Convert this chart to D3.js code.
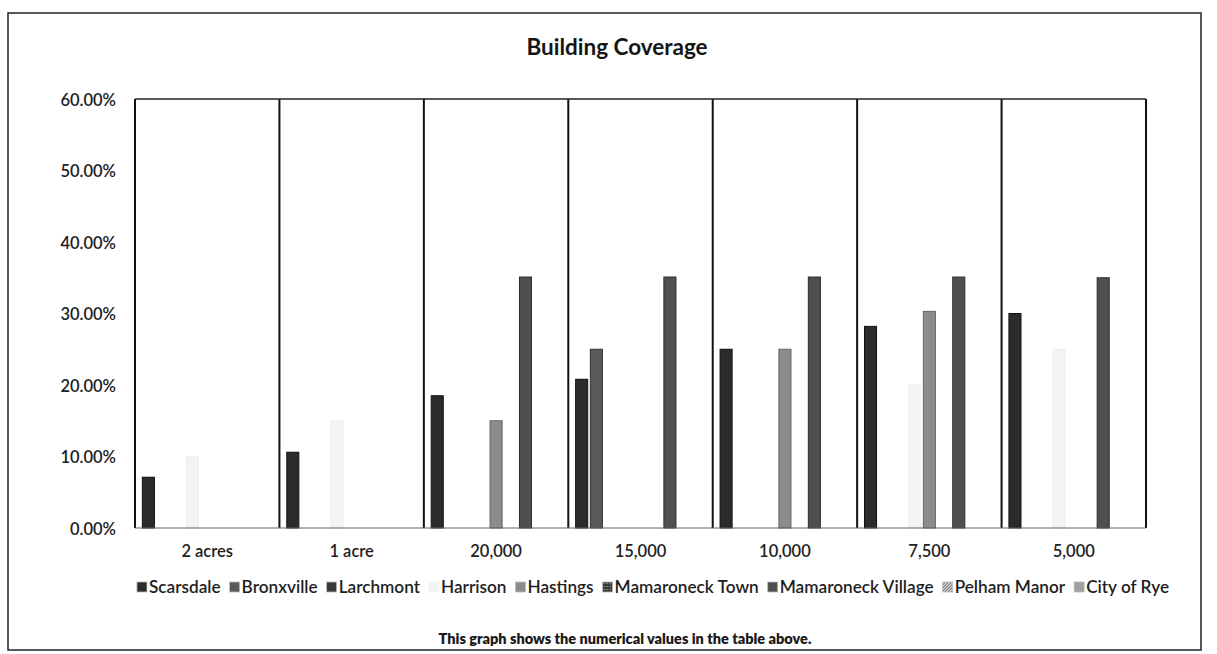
<!DOCTYPE html>
<html>
<head>
<meta charset="utf-8">
<script src="https://cdn.jsdelivr.net/npm/d3@7/dist/d3.min.js"></script>
<style>
  html, body { margin: 0; padding: 0; background: #fff; }
  svg { display: block; font-family: Lato, "Open Sans", sans-serif; }
</style>
</head>
<body>
<svg id="chart" width="1217" height="654"></svg>
<script>
// Lot-size categories along the x axis
const categories = ["2 acres", "1 acre", "20,000", "15,000", "10,000", "7,500", "5,000"];

// Municipalities (one bar series each)
const seriesNames = ["Scarsdale", "Bronxville", "Larchmont", "Harrison", "Hastings",
  "Mamaroneck Town", "Mamaroneck Village", "Pelham Manor", "City of Rye"];

// Maximum building coverage by lot size (fraction); null = no value in the table
const scarsdale         = [0.071, 0.106, 0.185, 0.208, 0.25, 0.282, 0.30];
const bronxville        = [null, null, null, 0.25, null, null, null];
const larchmont         = [null, null, null, null, null, null, null];
const harrison          = [0.10, 0.15, null, null, null, 0.20, 0.25];
const hastings          = [null, null, 0.15, null, 0.25, 0.303, null];
const mamaroneckTown    = [null, null, null, null, null, null, null];
const mamaroneckVillage = [null, null, 0.351, 0.351, 0.351, 0.351, 0.35];
const pelhamManor       = [null, null, null, null, null, null, null];
const cityOfRye         = [null, null, null, null, null, null, null];

const seriesValues = [scarsdale, bronxville, larchmont, harrison, hastings,
  mamaroneckTown, mamaroneckVillage, pelhamManor, cityOfRye];

const yTicks = [0, 0.1, 0.2, 0.3, 0.4, 0.5, 0.6];

const fills = ["#2b2b2b", "#595959", "#3a3a3a", "#f3f3f3", "#8c8c8c",
  "url(#patTown)", "#4f4f4f", "url(#patPelham)", "#a0a0a0"];
const strokes = ["#111", "#333", "#1e1e1e", "#eeeeee", "#666",
  "#333", "#2c2c2c", "#777", "#888"];

const svg = d3.select("#chart");
const defs = svg.append("defs");

// hatch fills used by two legend swatches
const pt = defs.append("pattern").attr("id", "patTown")
  .attr("width", 3).attr("height", 3).attr("patternUnits", "userSpaceOnUse");
pt.append("rect").attr("width", 3).attr("height", 3).attr("fill", "#3a3a3a");
pt.append("rect").attr("x", 1).attr("y", 1).attr("width", 1).attr("height", 1).attr("fill", "#bdbdbd");
const pp = defs.append("pattern").attr("id", "patPelham")
  .attr("width", 3).attr("height", 3).attr("patternUnits", "userSpaceOnUse");
pp.append("rect").attr("width", 3).attr("height", 3).attr("fill", "#d8d8d8");
pp.append("path").attr("d", "M0,3 L3,0").attr("stroke", "#555").attr("stroke-width", 1);

// outer chart frame
svg.append("rect")
  .attr("x", 8).attr("y", 13).attr("width", 1193).attr("height", 637)
  .attr("fill", "none").attr("stroke", "#222").attr("stroke-width", 1.5);

// title
svg.append("text")
  .attr("x", 617).attr("y", 55)
  .attr("text-anchor", "middle")
  .attr("font-size", 22.5).attr("font-weight", 700).attr("fill", "#151515")
  .text("Building Coverage");

const plot = { left: 135, right: 1146, top: 99, bottom: 528 };

const x0 = d3.scaleBand().domain(categories).range([plot.left, plot.right]).padding(0);
const x1 = d3.scaleBand().domain(seriesNames).range([0, x0.bandwidth()])
  .paddingInner(0.18).paddingOuter(0.5);
const y = d3.scaleLinear().domain([0, 0.6]).range([plot.bottom, plot.top]);

// y axis labels
const yAxis = d3.axisLeft(y).tickValues(yTicks).tickFormat(d3.format(".2%")).tickSize(0).tickPadding(19);
const gy = svg.append("g").attr("transform", `translate(${plot.left},0)`).call(yAxis);
gy.select(".domain").remove();
gy.selectAll("text").attr("font-size", 16.5).attr("font-weight", 600).attr("fill", "#1e1e1e")
  .attr("font-family", "Lato, sans-serif").attr("dy", "0.38em");

// bars
const barData = [];
categories.forEach((c, ci) => {
  seriesNames.forEach((s, si) => {
    const v = seriesValues[si][ci];
    if (v != null) barData.push({ c, s, si, v });
  });
});
svg.append("g").selectAll("rect").data(barData).join("rect")
  .attr("x", d => x0(d.c) + x1(d.s))
  .attr("y", d => y(d.v))
  .attr("width", x1.bandwidth())
  .attr("height", d => y(0) - y(d.v))
  .attr("fill", d => fills[d.si])
  .attr("stroke", d => strokes[d.si])
  .attr("stroke-width", 1);

// category separators and plot frame
svg.append("g").selectAll("line").data(categories.slice(1)).join("line")
  .attr("x1", d => x0(d)).attr("x2", d => x0(d))
  .attr("y1", plot.top).attr("y2", plot.bottom)
  .attr("stroke", "#111").attr("stroke-width", 2);
svg.append("line").attr("x1", plot.left).attr("x2", plot.left)
  .attr("y1", plot.top).attr("y2", plot.bottom).attr("stroke", "#111").attr("stroke-width", 2);
svg.append("line").attr("x1", plot.right).attr("x2", plot.right)
  .attr("y1", plot.top).attr("y2", plot.bottom).attr("stroke", "#111").attr("stroke-width", 2);
svg.append("line").attr("x1", plot.left).attr("x2", plot.right)
  .attr("y1", plot.top).attr("y2", plot.top).attr("stroke", "#222").attr("stroke-width", 1.5);
svg.append("line").attr("x1", plot.left).attr("x2", plot.right)
  .attr("y1", plot.bottom).attr("y2", plot.bottom).attr("stroke", "#666").attr("stroke-width", 1.2);

// x axis labels
const xAxis = d3.axisBottom(x0).tickSize(0).tickPadding(17);
const gx = svg.append("g").attr("transform", `translate(0,${plot.bottom})`).call(xAxis);
gx.select(".domain").remove();
gx.selectAll("text").attr("font-size", 16.5).attr("font-weight", 600).attr("fill", "#1e1e1e")
  .attr("font-family", "Lato, sans-serif");

// legend, laid out from measured text widths
const legendY = 587;
const lg = svg.append("g");
const items = lg.selectAll("g").data(seriesNames).join("g");
items.append("rect")
  .attr("width", 10).attr("height", 10).attr("y", legendY - 5)
  .attr("fill", (d, i) => fills[i]).attr("stroke", (d, i) => i === 3 ? "#f4f4f4" : "#bbb").attr("stroke-width", 0.8);
items.append("text")
  .attr("x", 12).attr("y", legendY).attr("dy", "0.36em")
  .attr("font-size", 17.2).attr("font-weight", 600).attr("fill", "#1e1e1e")
  .text(d => d);
const gap = 9;
const offsets = [];
let cx = 0;
items.each(function() {
  offsets.push(cx);
  const w = d3.select(this).select("text").node().getComputedTextLength();
  cx += 12 + w + gap;
});
const totalW = cx - gap;
const startX = 653 - totalW / 2;
items.attr("transform", (d, i) => `translate(${startX + offsets[i]},0)`);

// footnote
svg.append("text")
  .attr("x", 625).attr("y", 644)
  .attr("text-anchor", "middle")
  .attr("font-size", 14.5).attr("font-weight", 800).attr("fill", "#1a1a1a")
  .text("This graph shows the numerical values in the table above.");
</script>
</body>
</html>
